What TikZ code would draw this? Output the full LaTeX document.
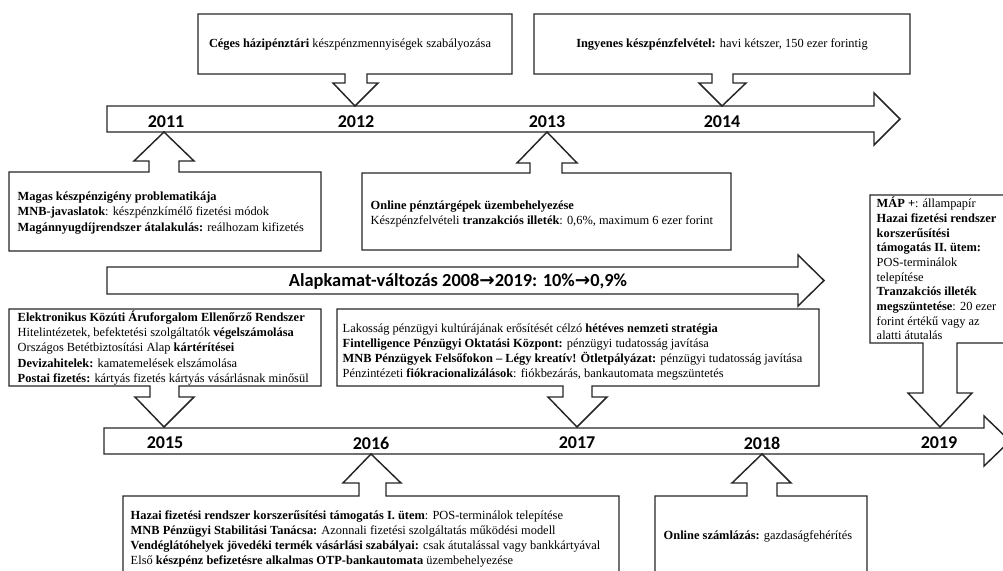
\documentclass[tikz,border=0pt]{standalone}
\usepackage{fontspec}
\setmainfont{Liberation Serif}
\newfontfamily\yearfont{Carlito}
\newfontfamily\symfont{DejaVu Sans}
\newcommand{\kamatarrow}{{\symfont\bfseries\char"2192}}

\tikzset{every picture/.style={line width=1.1pt}}
\tikzset{
	shp/.style={draw={rgb, 255:red, 38; green, 38; blue, 38}, fill=white, line join=miter},
	yr/.style={font=\fontsize{13.5}{16}\selectfont\yearfont\bfseries, inner sep=0pt},
	txt/.style={font=\fontsize{9.3}{11.4}\selectfont, align=left, inner sep=0pt, anchor=west},
}

\begin{document}
\begin{tikzpicture}[x=0.75pt,y=0.75pt,yscale=-1,xscale=1]
	\useasboundingbox (0,0) rectangle (1003,571);
	%Shape: Right Arrow [timeline 2011-2014]
	\draw [shp] (107,106) -- (874,106) -- (874,93) -- (900,119) -- (874,145) -- (874,132) -- (107,132) -- cycle ;
	%Shape: Right Arrow [base rate]
	\draw [shp] (107,267) -- (798,267) -- (798,255) -- (824,280.5) -- (798,306) -- (798,294) -- (107,294) -- cycle ;
	%Shape: Right Arrow [timeline 2015-2019]
	\draw [shp] (104,428) -- (984,428) -- (984,416) -- (1010,441) -- (984,466) -- (984,454) -- (104,454) -- cycle ;
	
	%Shape: Down Arrow Callout [2012]
	\draw [shp] (198,14) -- (512,14) -- (512,74) -- (367,74) -- (367,83) -- (378,83) -- (355,106) -- (333,83) -- (345,83) -- (345,74) -- (198,74) -- cycle ;
	%Shape: Down Arrow Callout [2014]
	\draw [shp] (534,14) -- (910,14) -- (910,74) -- (733,74) -- (733,83) -- (746,83) -- (722,106) -- (699,83) -- (712,83) -- (712,74) -- (534,74) -- cycle ;
	%Shape: Up Arrow Callout [2011]
	\draw [shp] (9,172) -- (149,172) -- (149,161) -- (134,161) -- (164,132) -- (194,161) -- (179,161) -- (179,172) -- (321,172) -- (321,251) -- (9,251) -- cycle ;
	%Shape: Up Arrow Callout [2013]
	\draw [shp] (362,173) -- (530,173) -- (530,163) -- (517,163) -- (547,132) -- (577,163) -- (562,163) -- (562,173) -- (731,173) -- (731,250) -- (362,250) -- cycle ;
	%Shape: Down Arrow Callout [2015]
	\draw [shp] (9,309) -- (321,309) -- (321,386) -- (179,386) -- (179,397) -- (194,397) -- (164,427) -- (135,397) -- (150,397) -- (150,386) -- (9,386) -- cycle ;
	%Shape: Down Arrow Callout [2017]
	\draw [shp] (337,309) -- (819,309) -- (819,386) -- (592,386) -- (592,397) -- (607,397) -- (577,427) -- (548,397) -- (563,397) -- (563,386) -- (337,386) -- cycle ;
	%Shape: Down Arrow Callout [2019]
	\draw [shp] (870,195) -- (1010,195) -- (1010,343) -- (957,343) -- (957,393) -- (972,393) -- (940,427) -- (908,393) -- (923,393) -- (923,343) -- (870,343) -- cycle ;
	%Shape: Up Arrow Callout [2016]
	\draw [shp] (123,496) -- (359,496) -- (359,483) -- (343,483) -- (371,454) -- (401,483) -- (386,483) -- (386,496) -- (619,496) -- (619,590) -- (123,590) -- cycle ;
	%Shape: Up Arrow Callout [2018]
	\draw [shp] (655,496) -- (747,496) -- (747,483) -- (732,483) -- (762,454) -- (791,483) -- (777,483) -- (777,496) -- (867,496) -- (867,590) -- (655,590) -- cycle ;
	
	% Text Node
	\draw (166,122) node [yr] (y2011) {2011};
	% Text Node
	\draw (356,122) node [yr] (y2012) {2012};
	% Text Node
	\draw (547,122) node [yr] (y2013) {2013};
	% Text Node
	\draw (722,122) node [yr] (y2014) {2014};
	% Text Node
	\draw (165,443) node [yr] (y2015) {2015};
	% Text Node
	\draw (371,443) node [yr] (y2016) {2016};
	% Text Node
	\draw (577,443) node [yr] (y2017) {2017};
	% Text Node
	\draw (762,443) node [yr] (y2018) {2018};
	% Text Node
	\draw (939,443) node [yr] (y2019) {2019};
	
	% Text Node
	\draw (458,281) node [font=\fontsize{13.8}{17}\selectfont\yearfont\bfseries, inner sep=0pt] (kamat) {Alapkamat-változás 2008\kamatarrow2019: 10\%\kamatarrow0,9\%};
	
	% Text Node
	\draw (350,45) node [txt, anchor=center] (t2012) {\textbf{Céges házipénztári} készpénzmennyiségek szabályozása};
	% Text Node
	\draw (722,45) node [txt, anchor=center] (t2014) {\textbf{Ingyenes készpénzfelvétel:} havi kétszer, 150 ezer forintig};
	% Text Node
	\draw (17,213) node [txt] (t2011) {\textbf{Magas készpénzigény problematikája}\\
		\textbf{MNB-javaslatok}: készpénzkímélő fizetési módok\\
		\textbf{Magánnyugdíjrendszer átalakulás:} reálhozam kifizetés};
	% Text Node
	\draw (370,214) node [txt] (t2013) {\textbf{Online pénztárgépek üzembehelyezése}\\
		Készpénzfelvételi \textbf{tranzakciós illeték}: 0,6\%, maximum 6 ezer forint};
	% Text Node
	\draw (17,348) node [txt] (t2015) {\textbf{Elektronikus Közúti Áruforgalom Ellenőrző Rendszer}\\
		Hitelintézetek, befektetési szolgáltatók \textbf{végelszámolása}\\
		Országos Betétbiztosítási Alap \textbf{kártérítései}\\
		\textbf{Devizahitelek:} kamatemelések elszámolása\\
		\textbf{Postai fizetés:} kártyás fizetés kártyás vásárlásnak minősül};
	% Text Node
	\draw (342,352) node [txt] (t2017) {Lakosság pénzügyi kultúrájának erősítését célzó \textbf{hétéves nemzeti stratégia}\\
		\textbf{Fintelligence Pénzügyi Oktatási Központ:} pénzügyi tudatosság javítása\\
		\textbf{MNB Pénzügyek Felsőfokon – Légy kreatív! Ötletpályázat:} pénzügyi tudatosság javítása\\
		Pénzintézeti \textbf{fiókracionalizálások}: fiókbezárás, bankautomata megszüntetés};
	% Text Node
	\draw (876,268.5) node [txt, font=\fontsize{9.3}{11}\selectfont] (t2019) {\textbf{MÁP +}: állampapír\\
		\textbf{Hazai fizetési rendszer}\\
		\textbf{korszerűsítési}\\
		\textbf{támogatás II. ütem:}\\
		POS-terminálok\\
		telepítése\\
		\textbf{Tranzakciós illeték}\\
		\textbf{megszüntetése}: 20 ezer\\
		forint értékű vagy az\\
		alatti átutalás};
	% Text Node
	\draw (130,539) node [txt] (t2016) {\textbf{Hazai fizetési rendszer korszerűsítési támogatás I. ütem}: POS-terminálok telepítése\\
		\textbf{MNB Pénzügyi Stabilitási Tanácsa:} Azonnali fizetési szolgáltatás működési modell\\
		\textbf{Vendéglátóhelyek jövedéki termék vásárlási szabályai:} csak átutalással vagy bankkártyával\\
		Első \textbf{készpénz befizetésre alkalmas OTP-bankautomata} üzembehelyezése};
	% Text Node
	\draw (663,536) node [txt] (t2018) {\textbf{Online számlázás:} gazdaságfehérítés};
\end{tikzpicture}
\end{document}
